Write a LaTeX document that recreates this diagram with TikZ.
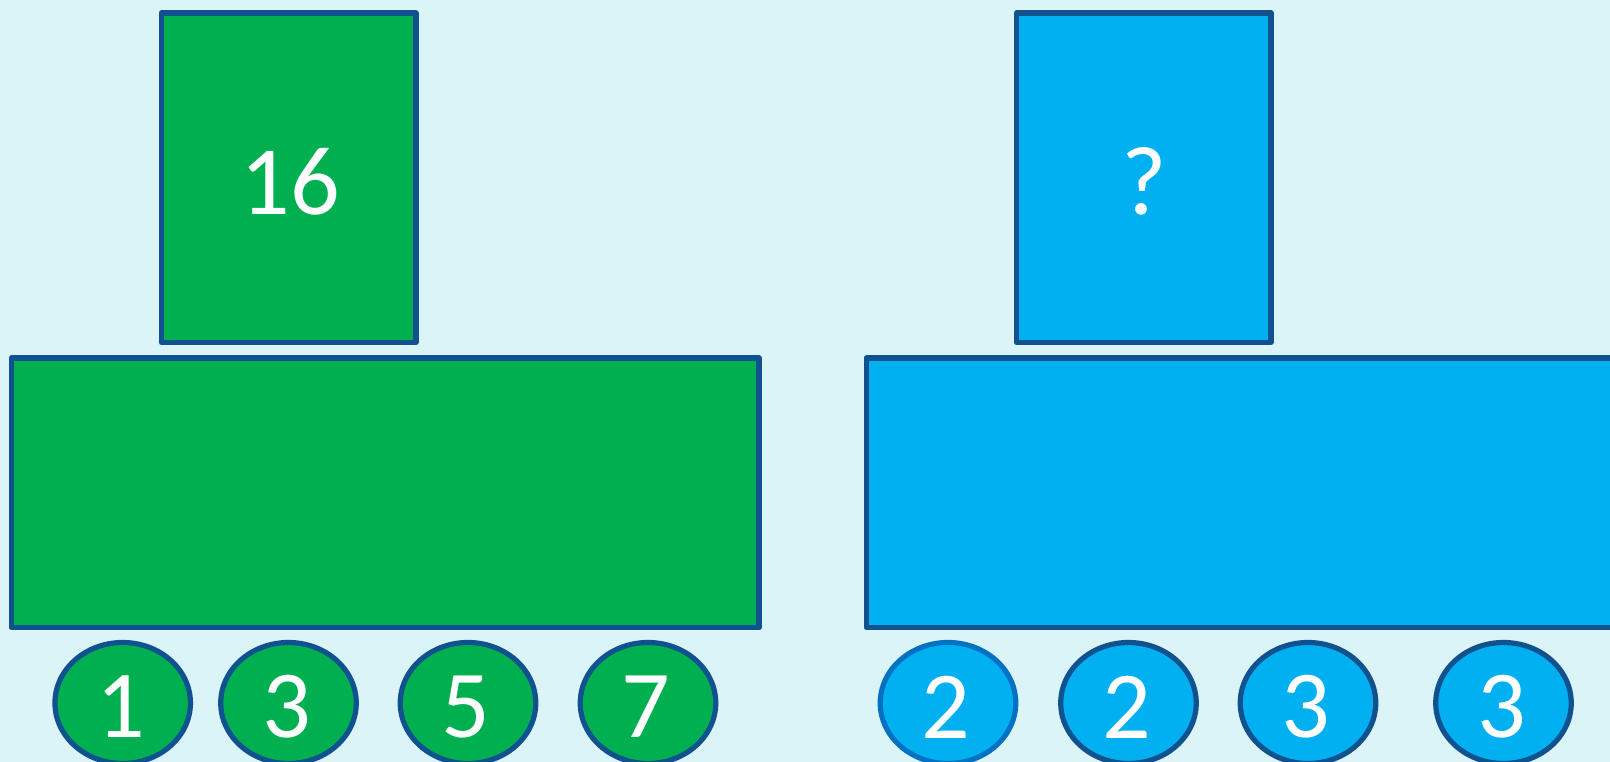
\documentclass[tikz,border=0pt]{standalone}
\usepackage{fontspec}
\setmainfont{Carlito}
\usetikzlibrary{shapes.geometric}
\definecolor{bgc}{RGB}{218,244,248}
\definecolor{grn}{RGB}{0,176,80}
\definecolor{blu}{RGB}{0,176,240}
\definecolor{edge}{RGB}{16,82,144}
\definecolor{edgelt}{RGB}{0,114,196}
\tikzset{
  box/.style={draw=edge, line width=5.6pt, line join=round, inner sep=0pt, outer sep=0pt},
  ball/.style={ellipse, draw=edge, line width=5.2pt, minimum width=135.5pt, minimum height=121pt, inner sep=0pt},
  big/.style={text=white, font=\fontsize{98}{98}\selectfont, inner sep=0pt},
  num/.style={text=white, font=\fontsize{96}{96}\selectfont, inner sep=0pt},
}
\begin{document}
\begin{tikzpicture}[x=1pt,y=-1pt]
\fill[bgc] (0,0) rectangle (1610,762);
\useasboundingbox (0,0) rectangle (1610,762);
\clip (0,0) rectangle (1610,762);
% green side
\node[box, fill=grn, minimum width=254.4pt, minimum height=329pt] (gtop) at (288.5,177.8) {};
\node[box, fill=grn, minimum width=747.7pt, minimum height=269.5pt] (gbot) at (385.2,492.8) {};
\node[big] (gtxt) at (290,182) {16};
% blue side
\node[box, fill=blu, minimum width=254.5pt, minimum height=329pt] (btop) at (1143.8,177.8) {};
\node[box, fill=blu, minimum width=760pt, minimum height=269.5pt] (bbot) at (1246.5,492.8) {};
\node[big] (btxt) at (1144.5,181) {?};
% green balls
\node[ball, fill=grn] (g1) at (122.7,703) {};
\node[ball, fill=grn] (g2) at (288.5,703) {};
\node[ball, fill=grn] (g3) at (468,703) {};
\node[ball, fill=grn] (g4) at (648,703) {};
\node[num] at (121,707) {1};
\node[num] at (287,707) {3};
\node[num] at (466,707) {5};
\node[num] at (646,707) {7};
% blue balls
\node[ball, fill=blu, draw=edgelt] (b1) at (948,703) {};
\node[ball, fill=blu] (b2) at (1128.5,703) {};
\node[ball, fill=blu] (b3) at (1308,703) {};
\node[ball, fill=blu] (b4) at (1503.5,703) {};
\node[num] at (946,707) {2};
\node[num] at (1126.5,707) {2};
\node[num] at (1306,707) {3};
\node[num] at (1501.5,707) {3};
\end{tikzpicture}
\end{document}
